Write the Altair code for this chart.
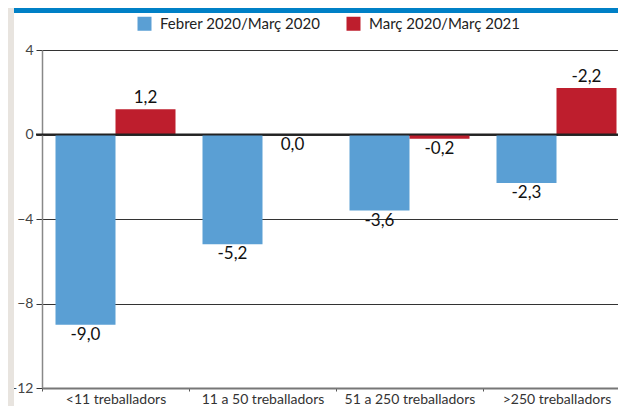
import altair as alt
import pandas as pd

categories = ["<11 treballadors", "11 a 50 treballadors", "51 a 250 treballadors", ">250 treballadors"]
series = ["Febrer 2020/Març 2020", "Març 2020/Març 2021"]
feb_values = [-9.0, -5.2, -3.6, -2.3]
mar_values = [1.2, 0.0, -0.2, 2.2]
feb_labels = ["-9,0", "-5,2", "-3,6", "-2,3"]
mar_labels = ["1,2", "0,0", "-0,2", "-2,2"]
y_ticks = [4, 0, -4, -8, -12]

colors = ["#5a9fd4", "#be1e2d"]
FONT = "Lato"

rows = []
for i, c in enumerate(categories):
    rows.append({"cat": c, "serie": series[0], "value": feb_values[i], "label": feb_labels[i]})
    rows.append({"cat": c, "serie": series[1], "value": mar_values[i], "label": mar_labels[i]})
df = pd.DataFrame(rows)

W, H = 576, 338
FULL_W = 588

x_scale = alt.Scale(paddingInner=0, paddingOuter=0, range=[0, FULL_W])
x_enc = alt.X("cat:N", sort=categories, scale=x_scale,
              axis=alt.Axis(title=None, labelAngle=0, labelFontSize=14, labelFont=FONT,
                            labelColor="#333", labelPadding=1, tickBand="extent",
                            tickSize=3, tickColor="#555", domainColor="#777",
                            domainWidth=2, grid=False, labelLimit=0))
xoff = alt.XOffset("serie:N", sort=series,
                   scale=alt.Scale(paddingInner=0, paddingOuter=0.225))
y_scale = alt.Scale(domain=[-12, 4], nice=False, zero=False)

base = alt.Chart(df)

bars = base.mark_bar().encode(
    x=x_enc,
    xOffset=xoff,
    y=alt.Y("value:Q", scale=y_scale,
            axis=alt.Axis(title=None, values=y_ticks, labelFontSize=14, labelFont=FONT,
                          labelColor="#444", labelPadding=3, tickSize=6, tickColor="#333",
                          domainColor="#888", domainWidth=1.5, grid=True,
                          gridColor="#333", gridWidth=1)),
    color=alt.Color("serie:N", sort=series,
                    scale=alt.Scale(domain=series, range=colors),
                    legend=alt.Legend(orient="none", legendX=95, legendY=-34,
                                      direction="horizontal", title=None,
                                      symbolType="square", symbolSize=196,
                                      symbolStrokeWidth=0, symbolOpacity=1,
                                      labelFontSize=15, labelFont=FONT,
                                      labelColor="#222", labelOffset=8,
                                      labelLimit=400,
                                      columnPadding=25, padding=0)),
)

txt_pos = base.transform_filter("datum.value > 0").mark_text(
    baseline="bottom", dy=-2, fontSize=17, font=FONT, color="#111"
).encode(x=alt.X("cat:N", sort=categories, scale=x_scale), xOffset=xoff,
         y=alt.Y("value:Q", scale=y_scale), text="label:N")

txt_neg = base.transform_filter("datum.value <= 0").mark_text(
    baseline="top", dy=2, fontSize=17, font=FONT, color="#111"
).encode(x=alt.X("cat:N", sort=categories, scale=x_scale), xOffset=xoff,
         y=alt.Y("value:Q", scale=y_scale), text="label:N")

zero = alt.Chart(pd.DataFrame({"y": [0]})).mark_rule(color="#222", strokeWidth=2).encode(
    y=alt.Y("y:Q", scale=y_scale), x=alt.value(-6), x2=alt.value(FULL_W + 10))

top_stripe = alt.Chart(pd.DataFrame({"a": [0]})).mark_rule(color="#0080c6", strokeWidth=5).encode(
    x=alt.value(-34), x2=alt.value(FULL_W + 10), y=alt.value(-39.5))
left_stripe = alt.Chart(pd.DataFrame({"a": [0]})).mark_rule(color="#e8e4df", strokeWidth=6).encode(
    x=alt.value(-31), y=alt.value(-42), y2=alt.value(H + 30))

chart = alt.layer(bars, zero, txt_pos, txt_neg, top_stripe, left_stripe).properties(
    width=W, height=H,
    padding={"left": 34, "top": 42, "right": 0, "bottom": 18},
    autosize="none",
).configure_view(stroke=None, clip=False).configure(font=FONT)

chart.save("out.html", embed_options={"renderer": "svg", "actions": False})
